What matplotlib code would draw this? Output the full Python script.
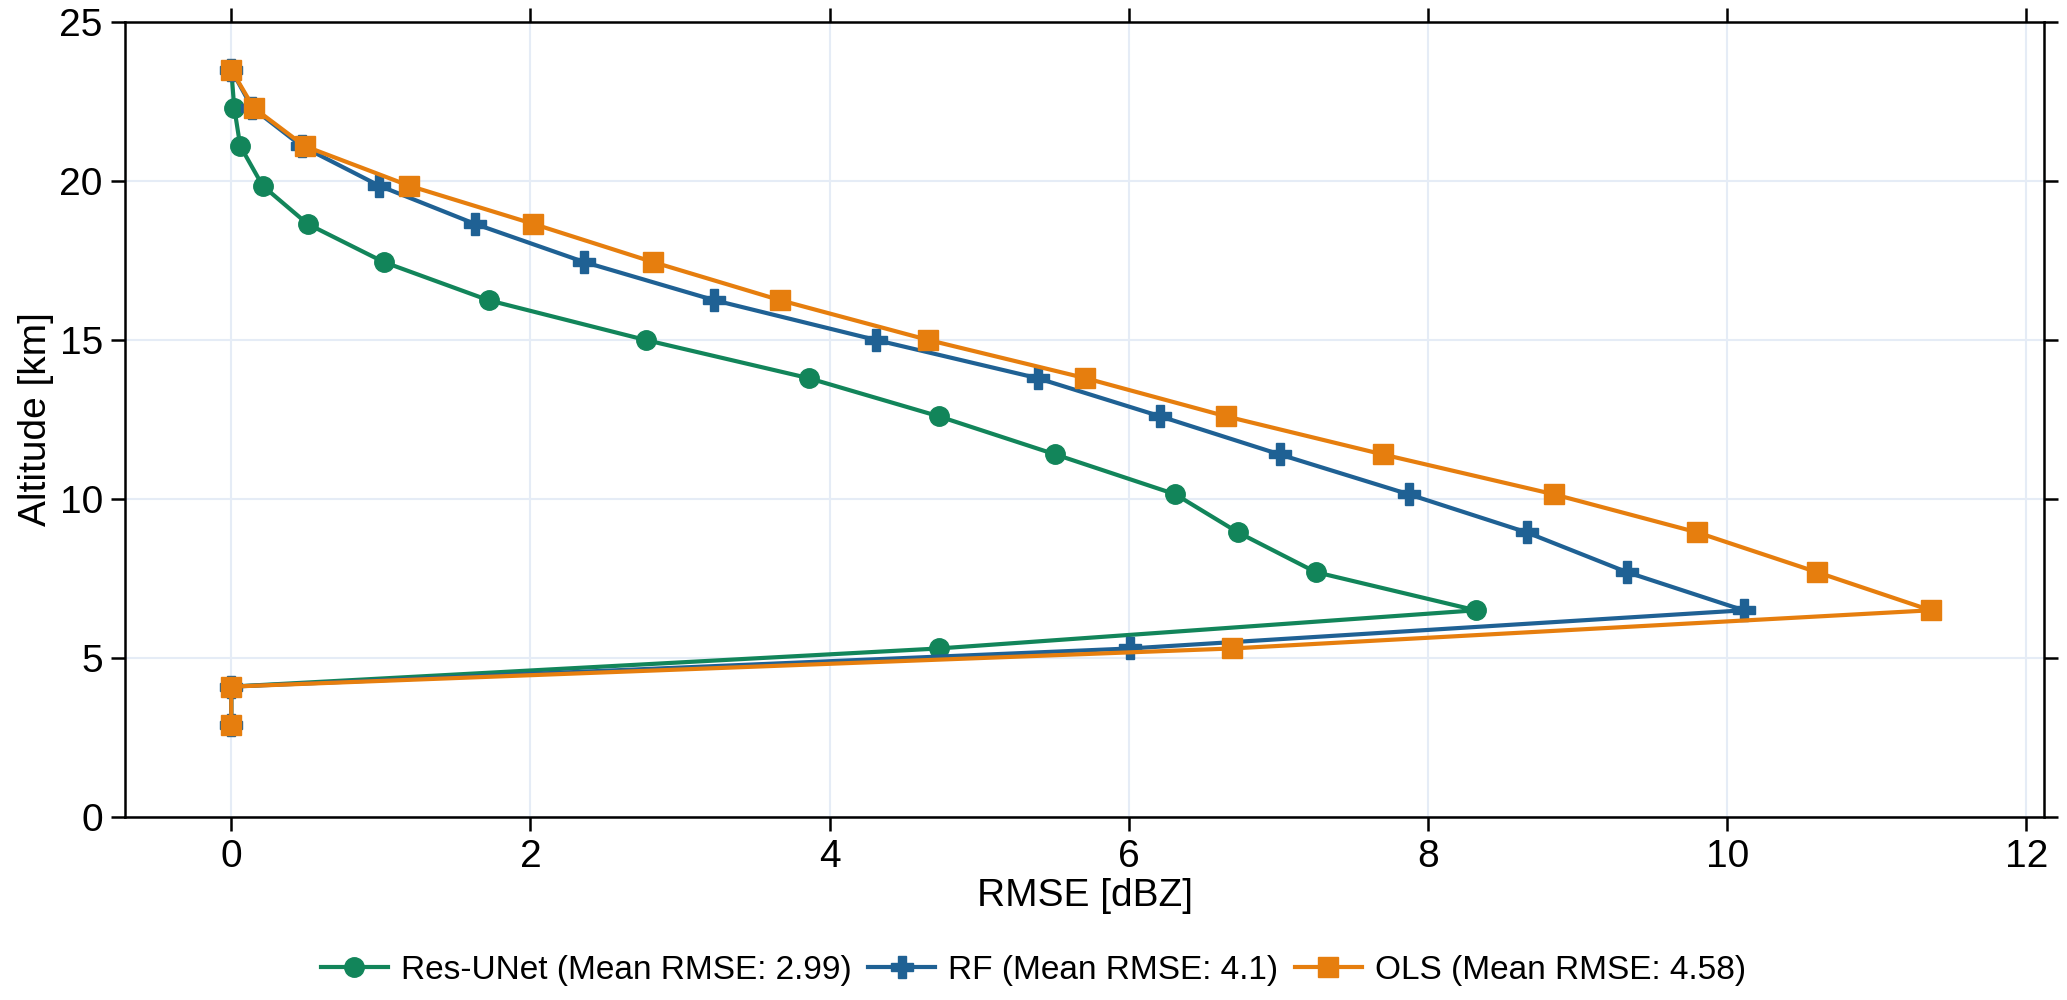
import numpy as np
import matplotlib.pyplot as plt

plt.rcParams['font.family'] = ['Liberation Sans', 'DejaVu Sans']

# altitude levels [km]
altitude = [2.9, 4.1, 5.3, 6.5, 7.7, 8.95, 10.15, 11.4, 12.6, 13.8, 15.0,
            16.25, 17.45, 18.65, 19.85, 21.1, 22.3, 23.5]

# RMSE per level [dBZ]
rmse_resunet = [0.0, 0.0, 4.73, 8.32, 7.25, 6.73, 6.31, 5.51, 4.73, 3.86, 2.77,
                1.72, 1.02, 0.51, 0.21, 0.06, 0.02, 0.0]
rmse_rf = [0.0, 0.0, 6.01, 10.11, 9.33, 8.66, 7.87, 7.01, 6.21, 5.39, 4.31,
           3.23, 2.36, 1.63, 0.99, 0.47, 0.14, 0.0]
rmse_ols = [0.0, 0.0, 6.69, 11.36, 10.6, 9.8, 8.84, 7.70, 6.65, 5.71, 4.66,
            3.67, 2.82, 2.02, 1.19, 0.49, 0.15, 0.0]

labels = ["Res-UNet (Mean RMSE: 2.99)", "RF (Mean RMSE: 4.1)", "OLS (Mean RMSE: 4.58)"]
colors = ["#12855a", "#1f6194", "#e67e0e"]

fig = plt.figure(figsize=(20.67, 10), dpi=100)
ax = fig.add_axes([0.0605, 0.183, 0.9285, 0.795])

ax.plot(rmse_resunet, altitude, color=colors[0], lw=3, marker="o", ms=14, label=labels[0])
ax.plot(rmse_rf, altitude, color=colors[1], lw=3, marker="P", ms=16, label=labels[1])
ax.plot(rmse_ols, altitude, color=colors[2], lw=3, marker="s", ms=14, label=labels[2])

ax.set_xlim(-0.71, 12.12)
ax.set_ylim(0, 25)
ax.set_xticks(np.arange(0, 13, 2))
ax.set_yticks(np.arange(0, 26, 5))
ax.grid(True, color="#e5ecf6", lw=1.5)
ax.set_axisbelow(True)
for s in ax.spines.values():
    s.set_linewidth(1.8)
ax.tick_params(axis="both", which="both", direction="out", length=10, width=1.8,
               top=True, right=True, labelsize=28, pad=6)

ax.set_xlabel("RMSE [dBZ]", fontsize=28, labelpad=2)
ax.set_ylabel("Altitude [km]", fontsize=28, labelpad=4)

fig.legend(loc="center", bbox_to_anchor=(0.5, 0.03), ncol=3, frameon=False,
           fontsize=24, handlelength=2.0, columnspacing=0.5, handletextpad=0.4)

fig.savefig("out.png", dpi=100)
